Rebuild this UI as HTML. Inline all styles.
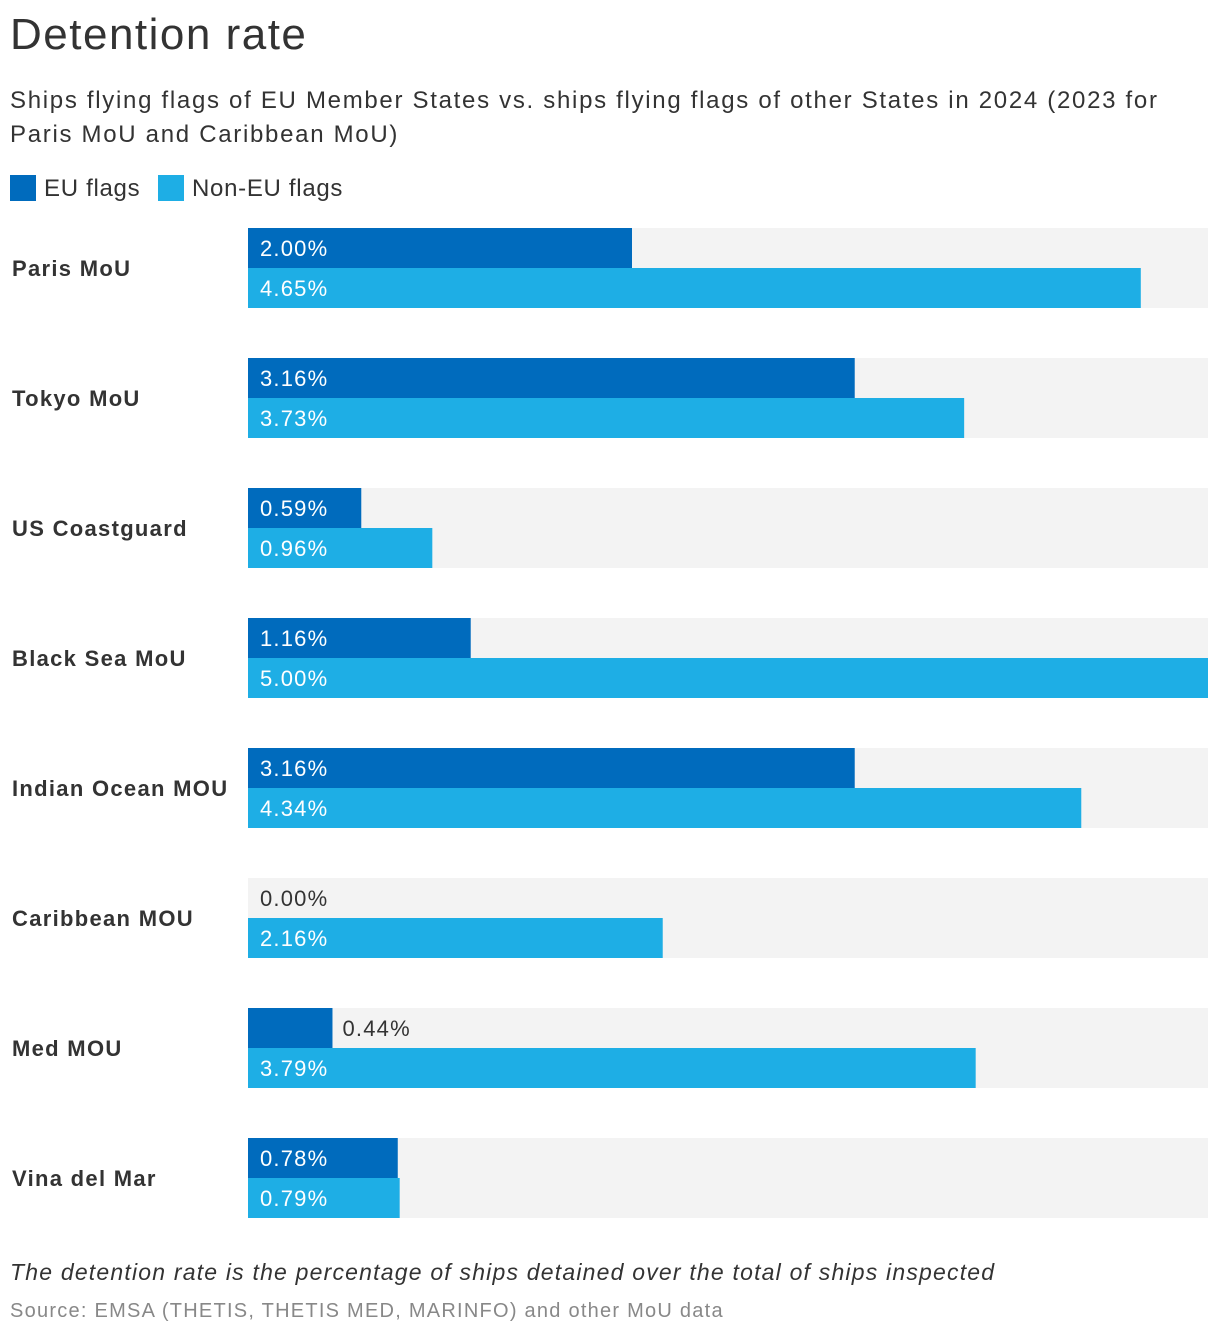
<!DOCTYPE html>
<html><head><meta charset="utf-8">
<style>
body{margin:0;width:1220px;height:1338px;background:#fff;font-family:"Liberation Sans",sans-serif;color:#333;position:relative;overflow:hidden}
.t{position:absolute;white-space:nowrap}
</style></head><body>
<div class="t" style="left:10px;top:10px;font-size:44px;color:#333;letter-spacing:1.5px">Detention rate</div>
<div class="t" style="left:10px;top:84px;font-size:24px;line-height:34px;letter-spacing:1.7px">Ships flying flags of EU Member States vs. ships flying flags of other States in 2024 (2023 for<br>Paris MoU and Caribbean MoU)</div>
<div class="t" style="left:10px;top:175px;font-size:24px;letter-spacing:0.7px"><span style="display:inline-block;width:26px;height:26px;background:#006bbd;vertical-align:-5px;margin-right:8px"></span>EU flags</div>
<div class="t" style="left:158px;top:175px;font-size:24px;letter-spacing:0.7px"><span style="display:inline-block;width:26px;height:26px;background:#1eaee5;vertical-align:-5px;margin-right:8px"></span>Non-EU flags</div>
<svg id="chart" width="1220" height="1338" style="position:absolute;left:0;top:0;pointer-events:none"></svg>
<div class="t" style="left:10px;top:1259px;font-size:23px;font-style:italic;letter-spacing:1.2px">The detention rate is the percentage of ships detained over the total of ships inspected</div>
<div class="t" style="left:10px;top:1300px;font-size:20px;color:#888;letter-spacing:1.25px">Source: EMSA (THETIS, THETIS MED, MARINFO) and other MoU data</div>
<script>
const categories=["Paris MoU","Tokyo MoU","US Coastguard","Black Sea MoU","Indian Ocean MOU","Caribbean MOU","Med MOU","Vina del Mar"];
const euValues=[2.00,3.16,0.59,1.16,3.16,0.00,0.44,0.78];
const nonEuValues=[4.65,3.73,0.96,5.00,4.34,2.16,3.79,0.79];
const xMax=5;
const svg=document.getElementById('chart');
const NS='http://www.w3.org/2000/svg';
const x0=248,plotW=960,top0=228,groupStep=130,barH=40;
const xs=v=>v/xMax*plotW;
function mk(tag,attrs){const e=document.createElementNS(NS,tag);for(const k in attrs)e.setAttribute(k,attrs[k]);svg.appendChild(e);return e;}
categories.forEach((c,i)=>{
  const y=top0+i*groupStep;
  const bg=mk('rect',{x:x0,y:y,width:plotW,height:barH*2,fill:'#f3f3f3'});
  
  
  const lab=mk('text',{x:12,y:y+barH+8,'font-size':22,'font-weight':'bold',fill:'#333','font-family':'Liberation Sans, sans-serif','letter-spacing':'1.3'});
  lab.textContent=c;
  
  
  [[euValues[i],'#006bbd'],[nonEuValues[i],'#1eaee5']].forEach((s,j)=>{
    const w=xs(s[0]),by=y+j*barH;
    const r=mk('rect',{x:x0,y:by,width:w,height:barH,fill:s[1]});
    
    
    const inside=w>100, zero=w<1;
    const t=mk('text',{x:inside||zero?x0+12:x0+w+10,y:by+barH/2+8,'font-size':22,fill:inside?'#fff':'#333','font-family':'Liberation Sans, sans-serif','letter-spacing':'1.2'});
    t.textContent=s[0].toFixed(2)+'%';
    
    
  });
});
</script>
</body></html>
